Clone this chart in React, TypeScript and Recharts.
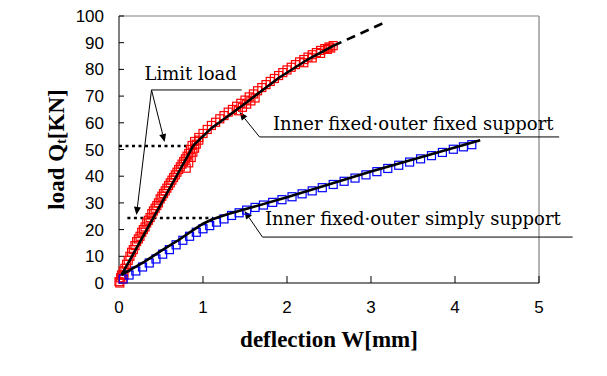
import React from "react";
import {
  ComposedChart,
  Scatter,
  XAxis,
  YAxis,
  ReferenceLine,
  ReferenceDot,
  Label,
} from "recharts";

// axis ticks
const xTicks = [0, 1, 2, 3, 4, 5];
const yTicks = [0, 10, 20, 30, 40, 50, 60, 70, 80, 90, 100];

// inner fixed - outer fixed support (red squares)
const fixedX = [
  0.0, 0.01, 0.02, 0.03, 0.04, 0.05, 0.06, 0.07, 0.09, 0.11, 0.13, 0.15, 0.17, 0.19, 0.21, 0.23,
  0.25, 0.27, 0.29, 0.31, 0.33, 0.35, 0.37, 0.39, 0.41, 0.43, 0.45, 0.47, 0.49, 0.51, 0.53, 0.55,
  0.57, 0.59, 0.61, 0.63, 0.65, 0.67, 0.69, 0.71, 0.73, 0.75, 0.77, 0.79, 0.81, 0.83, 0.85, 0.87,
  0.8, 0.83, 0.86, 0.88, 0.9, 0.92, 0.95,
  0.9, 0.95, 1.0, 1.05, 1.1, 1.15, 1.2, 1.25, 1.3, 1.35, 1.4, 1.45, 1.5, 1.55, 1.6, 1.65, 1.7,
  1.75, 1.8, 1.85, 1.9, 1.95, 2.0, 2.05, 2.1, 2.15, 2.2, 2.25, 2.3, 2.35, 2.4, 2.45, 2.5, 2.55,
  1.42, 1.47, 1.52, 1.57, 1.62, 2.2, 2.3, 2.4, 2.48, 2.52,
];
const fixedY = [
  0.5, 0, 2, 3, 1.5, 4.5, 3, 5.5, 7, 8.5, 10, 11.5, 12.5, 14, 15.5, 16.5,
  17.5, 19, 20, 21, 22.5, 23.5, 24.5, 26, 27, 28, 29, 30, 31.5, 32.5, 33.5, 34.5,
  35.5, 36.5, 37.5, 38.5, 39.5, 40.5, 41.5, 42.5, 43.5, 44.5, 45.5, 46.5, 47.5, 48.5, 50, 51.5,
  43, 45, 47, 49, 50.5, 52, 53.5,
  53, 54.5, 56, 57.5, 59, 60.2, 61.5, 62.7, 64, 65, 66.2, 67.3, 68.5, 69.7, 70.8, 72, 73.2,
  74.3, 75.5, 76.6, 77.7, 78.8, 79.8, 80.8, 81.8, 82.8, 83.7, 84.6, 85.5, 86.3, 87.1, 87.8, 88.4, 88.9,
  64.5, 65.8, 67, 68.2, 69.3, 82.5, 84.3, 86, 87.5, 88,
];

// inner fixed - outer simply support (blue squares)
const simplyX = [
  0.05, 0.12, 0.2, 0.28, 0.36, 0.44, 0.52, 0.6, 0.68, 0.76, 0.84, 0.92, 1.0, 1.08, 1.16, 1.25,
  1.34, 1.43, 1.52, 1.62, 1.72, 1.83, 1.94, 2.06, 2.18, 2.3, 2.42, 2.55, 2.68, 2.81, 2.94, 3.07,
  3.2, 3.33, 3.46, 3.59, 3.72, 3.85, 3.98, 4.1, 4.2,
];
const simplyY = [
  1.5, 3, 4.5, 6, 7.5, 9, 10.8, 12.5, 14.3, 16, 17.5, 19, 20.3, 21.5, 22.8, 24,
  25.3, 26.3, 27.3, 28.3, 29.2, 30.2, 31.2, 32.3, 33.4, 34.5, 35.7, 36.9, 38.1, 39.3, 40.5, 41.7,
  42.9, 44.1, 45.3, 46.5, 47.7, 48.9, 50.1, 51, 51.8,
];

// fitted curves
const fixedFitX = [0.03, 0.89, 1.1, 1.45, 1.9, 2.25, 2.55];
const fixedFitY = [3, 51.7, 58, 66, 76.8, 83.8, 88.8];
const fixedExtX = [2.55, 3.15];
const fixedExtY = [88.8, 97.4];
const simplyFitX = [0.03, 0.3, 0.5, 0.71, 0.9, 1.0, 1.1, 1.2, 1.3, 1.5, 2.0, 3.0, 4.3];
const simplyFitY = [3, 7.9, 12, 16.1, 20.2, 22.2, 23.7, 24.8, 25.8, 27.6, 32.1, 41.8, 53.5];

// limit loads
const fixedLimit = 51.3;
const fixedLimitW = 0.87;
const simplyLimit = 24.3;
const simplyLimitW = [0.1, 1.12];

const zip = (xs: number[], ys: number[]) => xs.map((x, i) => ({ x, y: ys[i] }));

const fixedData = zip(fixedX, fixedY);
const simplyData = zip(simplyX, simplyY);
const fixedFit = zip(fixedFitX, fixedFitY);
const fixedExt = zip(fixedExtX, fixedExtY);
const simplyFit = zip(simplyFitX, simplyFitY);

const serif = "'DejaVu Serif', serif";
const boldSerif = "'Liberation Serif', 'Times New Roman', serif";

const square = (color: string) => (props: any) => {
  const { cx, cy } = props;
  if (cx == null || cy == null) return <g />;
  return <rect x={cx - 4} y={cy - 4} width={8} height={8} fill="none" stroke={color} strokeWidth={1.2} />;
};

const noDot = () => <g />;

const plainLine = (props: any) => (
  <line x1={props.x1} y1={props.y1} x2={props.x2} y2={props.y2} stroke="#000" strokeWidth={1} />
);

// leader line with filled arrowhead at the second end
const arrowLine = (props: any) => {
  const { x1, y1, x2, y2 } = props;
  const dx = x2 - x1;
  const dy = y2 - y1;
  const len = Math.sqrt(dx * dx + dy * dy) || 1;
  const ux = dx / len;
  const uy = dy / len;
  const bx = x2 - ux * 8;
  const by = y2 - uy * 8;
  const pts = `${x2},${y2} ${bx - uy * 3.5},${by + ux * 3.5} ${bx + uy * 3.5},${by - ux * 3.5}`;
  return (
    <g>
      <line x1={x1} y1={y1} x2={bx} y2={by} stroke="#000" strokeWidth={1} />
      <polygon points={pts} fill="#000" />
    </g>
  );
};

const note = (text: string) => (props: any) => (
  <text x={props.cx} y={props.cy} fontFamily={serif} fontSize={18} fill="#000">
    {text}
  </text>
);

const YTitle = (props: any) => {
  const { viewBox } = props;
  const x = viewBox.x + 17;
  const y = viewBox.y + viewBox.height / 2;
  return (
    <text
      x={x}
      y={y}
      transform={`rotate(-90, ${x}, ${y})`}
      textAnchor="middle"
      dominantBaseline="central"
      fontFamily={boldSerif}
      fontWeight="bold"
      fontSize={23}
      fill="#000"
    >
      load Q<tspan fontSize={14} dy={5}>t</tspan>
      <tspan dy={-5}>[KN]</tspan>
    </text>
  );
};

const tickFont = { fill: "#000", fontSize: 17, fontFamily: "'Liberation Sans', Arial, sans-serif" };

export default function App() {
  return (
    <div style={{ position: "absolute", left: 0, top: 0 }}>
      <ComposedChart width={607} height={376} margin={{ top: 16, right: 68, bottom: 29, left: 39 }}>
        <XAxis
          type="number"
          dataKey="x"
          domain={[0, 5]}
          ticks={xTicks}
          interval={0}
          height={64}
          stroke="#000"
          tickSize={-7}
          tickMargin={25}
          tick={tickFont}
        >
          <Label
            value="deflection W[mm]"
            position="insideBottom"
            offset={0}
            style={{ fontFamily: boldSerif, fontWeight: "bold", fontSize: 23, fill: "#000" }}
          />
        </XAxis>
        <YAxis
          type="number"
          dataKey="y"
          domain={[0, 100]}
          ticks={yTicks}
          interval={0}
          width={80}
          stroke="#000"
          tickSize={-5}
          tickMargin={20}
          tick={tickFont}
        >
          <Label content={<YTitle />} />
        </YAxis>

        <ReferenceLine y={100} stroke="#808080" strokeWidth={1.2} />
        <ReferenceLine x={5} stroke="#808080" strokeWidth={1.2} />

        <Scatter data={fixedData} dataKey="y" shape={square("#ff0000")} isAnimationActive={false} />
        <Scatter data={simplyData} dataKey="y" shape={square("#0000ff")} isAnimationActive={false} />

        <Scatter data={fixedFit} dataKey="y" line={{ stroke: "#000", strokeWidth: 2.6 }} lineType="joint" shape={noDot} isAnimationActive={false} />
        <Scatter data={fixedExt} dataKey="y" line={{ stroke: "#000", strokeWidth: 2.6, strokeDasharray: "9 6" }} lineType="joint" shape={noDot} isAnimationActive={false} />
        <Scatter data={simplyFit} dataKey="y" line={{ stroke: "#000", strokeWidth: 2.6 }} lineType="joint" shape={noDot} isAnimationActive={false} />

        <ReferenceLine
          segment={[{ x: 0, y: fixedLimit }, { x: fixedLimitW, y: fixedLimit }]}
          stroke="#000"
          strokeWidth={2.5}
          strokeDasharray="3 3.5"
          ifOverflow="visible"
        />
        <ReferenceLine
          segment={[{ x: simplyLimitW[0], y: simplyLimit }, { x: simplyLimitW[1], y: simplyLimit }]}
          stroke="#000"
          strokeWidth={2.5}
          strokeDasharray="3 3.5"
          ifOverflow="visible"
        />

        {/* Limit load annotation */}
        <ReferenceDot x={0.304} y={76} ifOverflow="visible" shape={note("Limit load")} />
        <ReferenceLine segment={[{ x: 0.387, y: 72.3 }, { x: 1.46, y: 72.3 }]} ifOverflow="visible" shape={plainLine} />
        <ReferenceLine segment={[{ x: 0.387, y: 72.3 }, { x: 0.543, y: 52.8 }]} ifOverflow="visible" shape={arrowLine} />
        <ReferenceLine segment={[{ x: 0.387, y: 72.3 }, { x: 0.208, y: 25.5 }]} ifOverflow="visible" shape={arrowLine} />

        {/* fixed support annotation */}
        <ReferenceDot x={1.833} y={57.3} ifOverflow="visible" shape={note("Inner fixed·outer fixed support")} />
        <ReferenceLine segment={[{ x: 1.673, y: 54.7 }, { x: 5.24, y: 54.7 }]} ifOverflow="visible" shape={plainLine} />
        <ReferenceLine segment={[{ x: 1.673, y: 54.7 }, { x: 1.435, y: 64.0 }]} ifOverflow="visible" shape={arrowLine} />

        {/* simply support annotation */}
        <ReferenceDot x={1.738} y={21.7} ifOverflow="visible" shape={note("Inner fixed·outer simply support")} />
        <ReferenceLine segment={[{ x: 1.708, y: 17.2 }, { x: 5.4, y: 17.2 }]} ifOverflow="visible" shape={plainLine} />
        <ReferenceLine segment={[{ x: 1.708, y: 17.2 }, { x: 1.494, y: 27.0 }]} ifOverflow="visible" shape={arrowLine} />
      </ComposedChart>
    </div>
  );
}
